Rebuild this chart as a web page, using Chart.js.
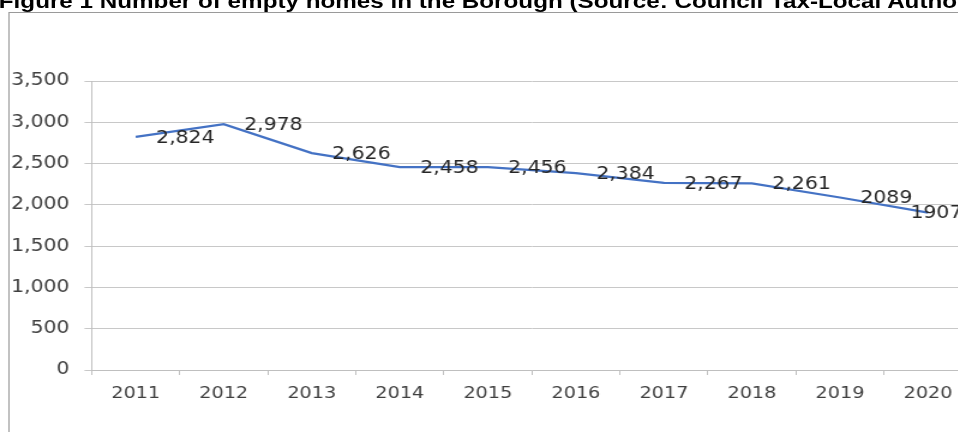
<!DOCTYPE html>
<html>
<head>
<meta charset="utf-8">
<script src="https://cdn.jsdelivr.net/npm/chart.js@4"></script>
<style>
  html, body { margin: 0; padding: 0; background: #fff; overflow: hidden; width: 958px; height: 432px; }
  /* the source image is stretched sideways, so the whole figure is too */
  #wrap { position: absolute; left: 0; top: 0; width: 833px; height: 432px; transform: scaleX(1.2); transform-origin: 0 0; }
  #title { position: absolute; left: -1px; top: -9px; font: bold 20.2px "Liberation Sans", Arial, sans-serif; line-height: 20px; white-space: nowrap; color: #000; }
  #box { position: absolute; left: 7px; top: 12px; width: 2000px; height: 1000px; border: 1px solid #9a9a9a; }
  #chart { position: absolute; left: 0; top: 0; }
</style>
</head>
<body>
<div id="wrap">
  <div id="title">Figure 1 Number of empty homes in the Borough (Source: Council Tax-Local Authority)</div>
  <div id="box"></div>
  <canvas id="chart" width="833" height="432"></canvas>
</div>
<script>
// DATA
const years = ["2011", "2012", "2013", "2014", "2015", "2016", "2017", "2018", "2019", "2020"];
const emptyHomes = [2824, 2978, 2626, 2458, 2456, 2384, 2267, 2261, 2089, 1907];
const valueLabels = ["2,824", "2,978", "2,626", "2,458", "2,456", "2,384", "2,267", "2,261", "2089", "1907"];
const yMin = 0;
const yMax = 3500;
const yStep = 500;

// labels to the right of each point, kept inside the chart
const valueLabelPlugin = {
    id: "valueLabels",
    afterDatasetsDraw(chart) {
        const ctx = chart.ctx;
        const area = chart.chartArea;
        const meta = chart.getDatasetMeta(0);
        ctx.save();
        ctx.font = '17px "DejaVu Sans"';
        ctx.fillStyle = "#262626";
        ctx.textAlign = "left";
        ctx.textBaseline = "middle";
        meta.data.forEach((pt, i) => {
            const text = valueLabels[i];
            const w = ctx.measureText(text).width;
            const x = Math.min(pt.x + 17, area.right - 8 - w);
            ctx.fillText(text, x, pt.y + 1.5);
        });
        ctx.restore();
    }
};

new Chart(document.getElementById("chart"), {
    type: "line",
    data: {
        labels: years,
        datasets: [{
            data: emptyHomes,
            borderColor: "#4472C4",
            borderWidth: 2.25,
            pointRadius: 0,
            tension: 0,
            fill: false
        }]
    },
    options: {
        responsive: false,
        animation: false,
        layout: { padding: { top: 81, right: 23, bottom: 0, left: 0 } },
        plugins: {
            legend: { display: false },
            tooltip: { enabled: false }
        },
        scales: {
            x: {
                offset: true,
                grid: { offset: true, drawOnChartArea: false, tickLength: 5, color: "#bfbfbf" },
                border: { color: "#bfbfbf" },
                ticks: {
                    color: "#404040",
                    font: { family: "DejaVu Sans", size: 16 },
                    padding: 9,
                    maxRotation: 0,
                    autoSkip: false
                },
                afterFit: (s) => { s.height = 62; }
            },
            y: {
                min: yMin,
                max: yMax,
                grid: { color: "#c8c8c8", tickLength: 6 },
                border: { color: "#bfbfbf" },
                ticks: {
                    stepSize: yStep,
                    color: "#404040",
                    font: { family: "DejaVu Sans", size: 17 },
                    padding: 12.5
                },
                afterFit: (s) => { s.width = 76.4; }
            }
        }
    },
    plugins: [valueLabelPlugin]
});
</script>
</body>
</html>
